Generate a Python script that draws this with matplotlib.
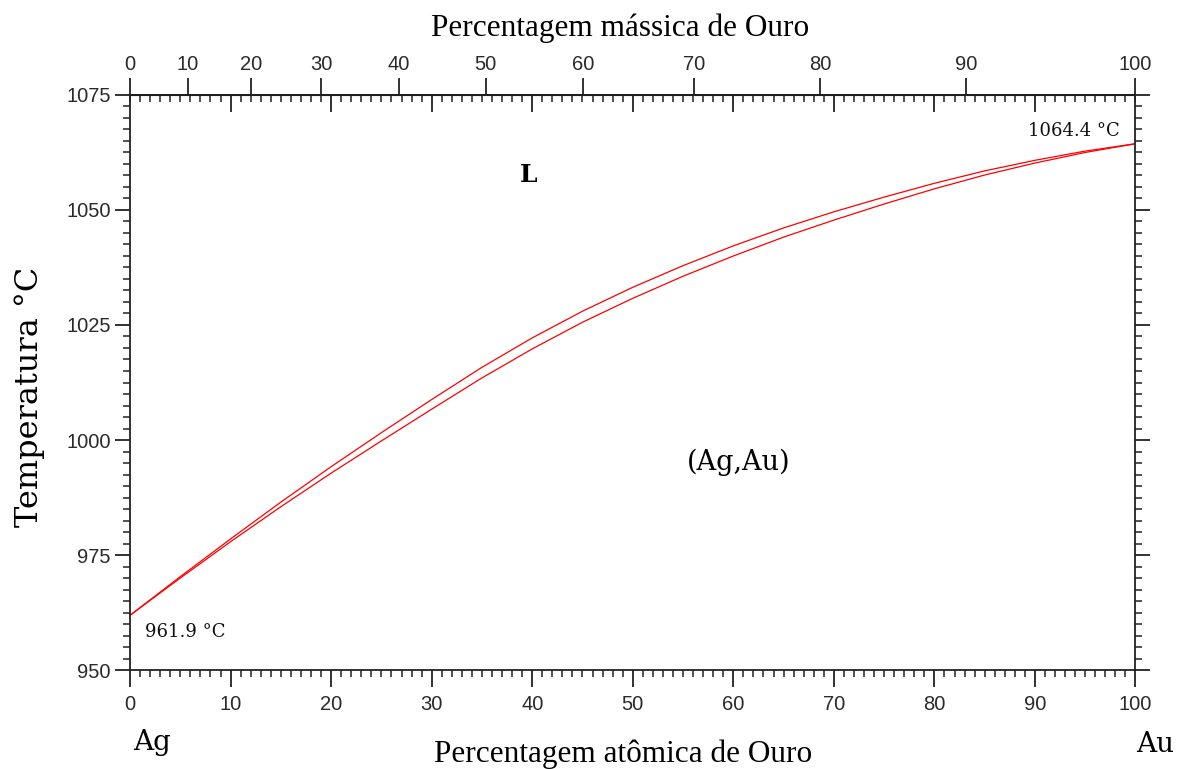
import matplotlib
matplotlib.use('Agg')
import matplotlib.pyplot as plt
import numpy as np
from matplotlib.ticker import MultipleLocator, FixedLocator, NullFormatter

# Ag-Au phase diagram: liquidus / solidus against atomic % Au
at_pct = [0, 5, 10, 15, 20, 25, 30, 35, 40, 45, 50,
          55, 60, 65, 70, 75, 80, 85, 90, 95, 100]
liquidus = [961.9, 970.3, 978.5, 986.5, 994.2, 1001.6, 1008.8, 1015.8, 1022.2, 1028.0, 1033.2,
            1037.9, 1042.2, 1046.1, 1049.6, 1052.8, 1055.8, 1058.5, 1060.8, 1062.8, 1064.4]
solidus = [961.9, 970.0, 977.9, 985.5, 992.8, 999.8, 1006.7, 1013.5, 1019.8, 1025.6, 1030.8,
           1035.6, 1040.0, 1044.1, 1047.8, 1051.3, 1054.6, 1057.6, 1060.2, 1062.5, 1064.4]
wt_ticks = [0, 10, 20, 30, 40, 50, 60, 70, 80, 90, 100]
M_AU = 196.97
M_AG = 107.87

def at_to_wt(x):
    x = np.clip(np.asarray(x, dtype=float), 0, 100)
    return 100 * x * M_AU / (x * M_AU + (100 - x) * M_AG)

def wt_to_at(w):
    w = np.clip(np.asarray(w, dtype=float), 0, 100)
    return 100 * (w / M_AU) / (w / M_AU + (100 - w) / M_AG)

sans = 'Liberation Sans'
tick_col = '#2a2a2a'

fig = plt.figure(figsize=(11.79, 7.69), dpi=100)
ax = fig.add_axes([0.1103, 0.1287, 0.8528, 0.7478])
ax.plot(at_pct, liquidus, color='#ff0000', lw=0.9)
ax.plot(at_pct, solidus, color='#ff0000', lw=0.9)
ax.set_xlim(0, 100)
ax.set_ylim(950, 1075)

for s in ax.spines.values():
    s.set_linewidth(1.3)
    s.set_color('#222222')

# bottom axis
ax.xaxis.set_major_locator(MultipleLocator(10))
ax.xaxis.set_minor_locator(MultipleLocator(1))
ax.tick_params(axis='x', which='major', direction='out', length=12, width=1.3,
               pad=6, labelsize=14.5, colors='#222222', labelcolor=tick_col)
ax.tick_params(axis='x', which='minor', direction='out', length=5, width=1.1, colors='#222222')

# left and right axes
ax.yaxis.set_major_locator(MultipleLocator(25))
ax.yaxis.set_minor_locator(MultipleLocator(2.5))
ax.tick_params(axis='y', which='both', left=True, right=True, direction='out', colors='#222222')
ax.tick_params(axis='y', which='major', length=11, width=1.3, pad=3,
               labelsize=14.5, labelcolor=tick_col)
ax.tick_params(axis='y', which='minor', length=5, width=1.1)
for lab in ax.get_xticklabels() + ax.get_yticklabels():
    lab.set_fontfamily(sans)

# top: atomic % ticks pointing in
top_in = ax.secondary_xaxis('top')
top_in.xaxis.set_major_locator(FixedLocator(np.arange(10, 100, 10)))
top_in.xaxis.set_minor_locator(MultipleLocator(1))
top_in.xaxis.set_major_formatter(NullFormatter())
top_in.tick_params(which='major', direction='in', length=12, width=1.3, colors='#222222')
top_in.tick_params(which='minor', direction='in', length=5, width=1.1, colors='#222222')
top_in.spines['top'].set_linewidth(1.3)

# top: weight % scale pointing out
top_wt = ax.secondary_xaxis('top', functions=(at_to_wt, wt_to_at))
top_wt.xaxis.set_major_locator(FixedLocator(wt_ticks))
top_wt.xaxis.set_minor_locator(FixedLocator([]))
top_wt.tick_params(which='major', direction='out', length=12, width=1.3, pad=3,
                   labelsize=14.5, colors='#222222', labelcolor=tick_col)
for lab in top_wt.get_xticklabels():
    lab.set_fontfamily(sans)

# labels inside the diagram
ax.text(1.5, 958.3, '961.9 °C', family='DejaVu Serif', fontsize=13,
        ha='left', va='center', color='#111111')
ax.text(98.4, 1067.2, '1064.4 °C', family='DejaVu Serif', fontsize=13,
        ha='right', va='center', color='#111111')
ax.text(39.6, 1057.6, 'L', family='DejaVu Serif', fontweight='bold', fontsize=18,
        ha='center', va='center')
ax.text(60.5, 995.2, '(Ag,Au)', family='DejaVu Serif', fontsize=19.5,
        ha='center', va='center')

# axis titles
fig.text(620 / 1179, 1 - 28 / 769, 'Percentagem mássica de Ouro',
         family='Liberation Serif', fontsize=22.5, ha='center', va='center')
fig.text(623 / 1179, 1 - 754 / 769, 'Percentagem atômica de Ouro',
         family='Liberation Serif', fontsize=22.5, ha='center', va='center')
fig.text(30 / 1179, 1 - 397 / 769, 'Temperatura °C', family='DejaVu Serif',
         fontsize=23, rotation=90, ha='center', va='center')
fig.text(133 / 1179, 1 - 742 / 769, 'Ag', family='DejaVu Serif', fontsize=20,
         ha='left', va='center')
fig.text(1136 / 1179, 1 - 745 / 769, 'Au', family='DejaVu Serif', fontsize=20,
         ha='left', va='center')

fig.savefig('out.png', dpi=100)
